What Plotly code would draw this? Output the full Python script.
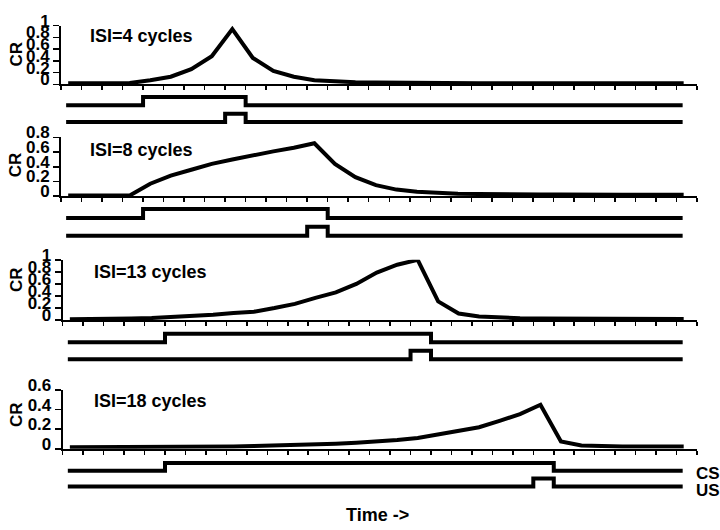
import plotly.graph_objects as go

# ---------------- data ----------------
n_cycles = 31
sample_time = [i + 0.35 for i in range(n_cycles)]  # time of each CR sample (cycles)

isi_labels = ["ISI=4 cycles", "ISI=8 cycles", "ISI=13 cycles", "ISI=18 cycles"]

cr_isi4 = [0.02, 0.02, 0.02, 0.025, 0.07, 0.13, 0.26, 0.48, 0.94, 0.45,
           0.23, 0.13, 0.07, 0.045, 0.035, 0.03, 0.025, 0.02, 0.02, 0.02,
           0.02, 0.02, 0.02, 0.02, 0.02, 0.02, 0.02, 0.02, 0.02, 0.02, 0.02]
cr_isi8 = [0.01, 0.01, 0.01, 0.01, 0.17, 0.28, 0.36, 0.44, 0.50, 0.56,
           0.61, 0.66, 0.72, 0.44, 0.26, 0.15, 0.09, 0.06, 0.045, 0.035,
           0.03, 0.025, 0.025, 0.025, 0.025, 0.02, 0.02, 0.02, 0.02, 0.02, 0.02]
cr_isi13 = [0.015, 0.015, 0.02, 0.025, 0.035, 0.05, 0.07, 0.09, 0.12, 0.14,
            0.20, 0.27, 0.37, 0.46, 0.60, 0.79, 0.92, 1.0, 0.31, 0.11,
            0.06, 0.04, 0.03, 0.025, 0.025, 0.025, 0.025, 0.02, 0.02, 0.02, 0.02]
cr_isi18 = [0.015, 0.015, 0.015, 0.015, 0.015, 0.015, 0.015, 0.02, 0.025, 0.028,
            0.032, 0.037, 0.045, 0.052, 0.062, 0.072, 0.09, 0.11, 0.145, 0.18,
            0.22, 0.285, 0.355, 0.45, 0.075, 0.035, 0.025, 0.025, 0.025, 0.025, 0.025]
cr_series = [cr_isi4, cr_isi8, cr_isi13, cr_isi18]

cs_onset = [4, 4, 5, 5]
cs_offset = [9, 13, 18, 24]
us_onset = [8, 12, 17, 23]
us_offset = [9, 13, 18, 24]
trace_start = 0.25
trace_end = 30.3

cr_ticks = [[0, 0.2, 0.4, 0.6, 0.8, 1],
            [0, 0.2, 0.4, 0.6, 0.8],
            [0, 0.2, 0.4, 0.6, 0.8, 1],
            [0, 0.2, 0.4, 0.6]]
cr_top = [1, 0.8, 1, 0.6]

# ---------------- layout geometry (pixels) ----------------
W, H = 720, 530
FONT = "Liberation Sans"
def fy(px):
    return 1 - px / H
def fx(px):
    return px / W

x_left = [61, 61, 62.7, 62.7]
x_right = 697
cr_px = [(12, 73), (128, 189), (255, 317.5), (390, 451)]       # (top, zero)
step_px = [(112, 86), (230, 202.3), (358, 331.7), (490, 465.7)]  # (level0, level3)
isi_pos = [(88, 23), (88, 141), (92, 268), (92, 401)]
cr_label_pos = [(16, 42), (15, 157), (16, 276), (16, 416)]

CS_LOW, CS_HIGH, US_LOW, US_HIGH = 2, 3, 0, 1
LW = 4

fig = go.Figure()
layout = dict(
    width=W, height=H, margin=dict(l=0, r=0, t=0, b=0),
    paper_bgcolor="white", plot_bgcolor="white", showlegend=False,
    annotations=[],
)

tickfont = dict(family=FONT, size=17, color="black", weight="bold")
labelfont = dict(family=FONT, size=18, color="black", weight="bold")
sidefont = dict(family=FONT, size=17, color="black", weight="bold")

for p in range(4):
    xa = f"x{p+1}"
    ya_cr = f"y{2*p+1}"
    ya_st = f"y{2*p+2}"
    xkey = "xaxis" if p == 0 else f"xaxis{p+1}"
    ykey_cr = "yaxis" if p == 0 else f"yaxis{2*p+1}"
    ykey_st = f"yaxis{2*p+2}"

    top, zero = cr_px[p]
    layout[xkey] = dict(
        domain=[fx(x_left[p]), fx(x_right)], range=[0, n_cycles],
        anchor=ya_cr, showline=True, linecolor="black", linewidth=2,
        ticks="outside", ticklen=4, tickwidth=1.5, tickcolor="black",
        tick0=0, dtick=1, showticklabels=False, showgrid=False, zeroline=False,
        fixedrange=True,
    )
    layout[ykey_cr] = dict(
        domain=[fy(zero), fy(top)], range=[0, cr_top[p]],
        anchor=xa, showline=True, linecolor="black", linewidth=2,
        ticks="outside", ticklen=6, tickwidth=1.5, tickcolor="black",
        tickvals=cr_ticks[p], ticktext=[("%g" % v) for v in cr_ticks[p]],
        tickfont=tickfont, ticklabelshift=-5,
        showgrid=False, zeroline=False, fixedrange=True,
    )
    l0, l3 = step_px[p]
    u = (l0 - l3) / 3.0
    layout[ykey_st] = dict(
        domain=[fy(l0 + 0.5 * u), fy(l3 - 0.5 * u)], range=[-0.5, 3.5],
        anchor=xa, visible=False, showgrid=False, zeroline=False, fixedrange=True,
    )

    fig.add_trace(go.Scatter(
        x=sample_time, y=cr_series[p], xaxis=xa, yaxis=ya_cr, mode="lines",
        line=dict(color="black", width=LW), hoverinfo="skip"))
    fig.add_trace(go.Scatter(
        x=[trace_start, cs_onset[p], cs_offset[p], trace_end],
        y=[CS_LOW, CS_HIGH, CS_LOW, CS_LOW], xaxis=xa, yaxis=ya_st, mode="lines",
        line=dict(color="black", width=LW, shape="hv"), hoverinfo="skip"))
    fig.add_trace(go.Scatter(
        x=[trace_start, us_onset[p], us_offset[p], trace_end],
        y=[US_LOW, US_HIGH, US_LOW, US_LOW], xaxis=xa, yaxis=ya_st, mode="lines",
        line=dict(color="black", width=LW, shape="hv"), hoverinfo="skip"))

    ix, iy = isi_pos[p]
    layout["annotations"].append(dict(
        text=isi_labels[p], xref="paper", yref="paper", x=fx(ix), y=fy(iy),
        xanchor="left", yanchor="middle", showarrow=False, font=labelfont))
    cx, cy = cr_label_pos[p]
    layout["annotations"].append(dict(
        text="CR", xref="paper", yref="paper", x=fx(cx), y=fy(cy),
        xanchor="center", yanchor="middle", textangle=-90, showarrow=False,
        font=sidefont))

for txt, px, py, anchor, fnt in [("CS", 694, 477, "left", sidefont),
                                  ("US", 694, 494, "left", sidefont),
                                  ("Time ->", 377, 520, "center", labelfont)]:
    layout["annotations"].append(dict(
        text=txt, xref="paper", yref="paper", x=fx(px), y=fy(py),
        xanchor=anchor, yanchor="middle", showarrow=False, font=fnt))

fig.update_layout(**layout)
fig.write_html("out.html",
               config={"displayModeBar": False, "staticPlot": True},
               post_script="document.body.style.margin='0';document.body.style.overflow='hidden';")
